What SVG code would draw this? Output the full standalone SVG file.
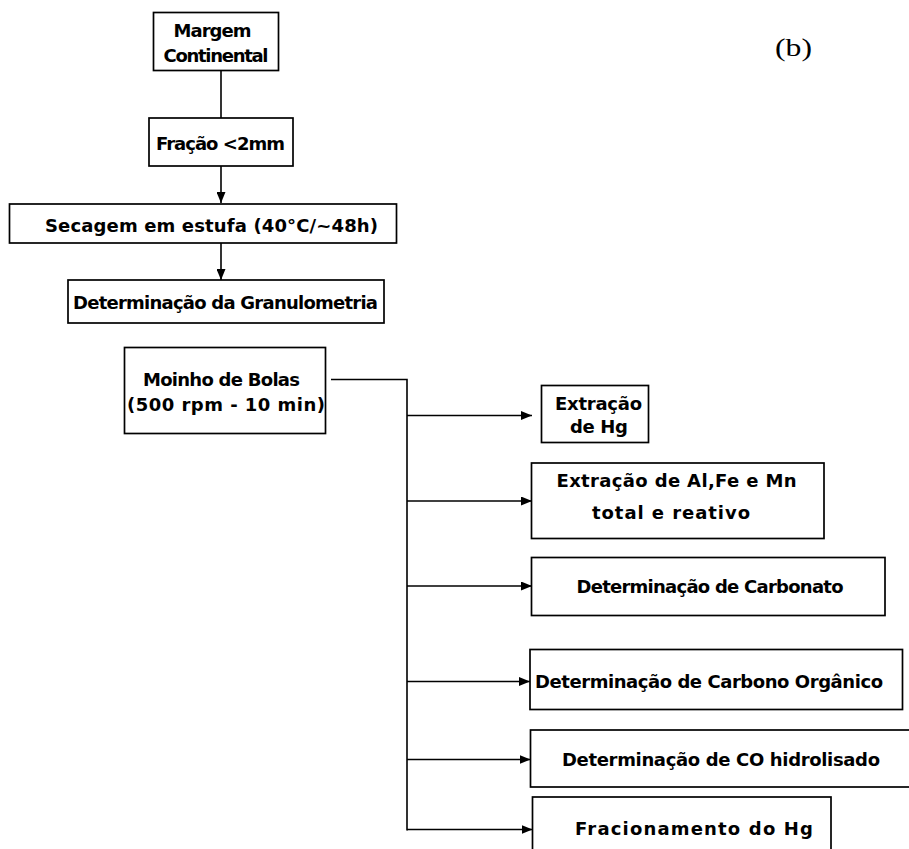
<svg xmlns="http://www.w3.org/2000/svg" width="909" height="849" viewBox="0 0 909 849">
  <style>
    .box { fill: #ffffff; stroke: #000000; stroke-width: 1.7; }
    .lbl { font-family: "DejaVu Sans", "Liberation Sans", sans-serif; font-weight: bold; font-size: 18px; fill: #000000; text-anchor: middle; }
    .tag { font-family: "Liberation Serif", serif; font-size: 26px; fill: #000000; text-anchor: middle; }
    .wire { fill: none; stroke: #000000; stroke-width: 1.6; }
    .arrow { fill: none; stroke: #000000; stroke-width: 1.6; marker-end: url(#head); }
  </style>
  <defs>
    <marker id="head" markerUnits="userSpaceOnUse" markerWidth="12" markerHeight="9" refX="11" refY="4.5" orient="auto">
      <path d="M0,0 L11,4.5 L0,9 z" fill="#000000"/>
    </marker>
  </defs>
  <rect width="909" height="849" fill="#ffffff"/>

  <!-- panel tag -->
  <text class="tag" x="793.5" y="56" textLength="37" lengthAdjust="spacingAndGlyphs">(b)</text>

  <!-- connectors -->
  <g id="connectors">
    <line class="wire" x1="221" y1="70.5" x2="221" y2="118"/>
    <line class="arrow" x1="221" y1="166" x2="221" y2="203"/>
    <line class="arrow" x1="221" y1="243" x2="221" y2="280"/>
    <polyline class="wire" points="331,379.5 407,379.5 407,830.5"/>
    <line class="arrow" x1="407" y1="415.5" x2="532" y2="415.5"/>
    <line class="arrow" x1="407" y1="501" x2="532" y2="501"/>
    <line class="arrow" x1="407" y1="586" x2="532" y2="586"/>
    <line class="arrow" x1="407" y1="681.5" x2="530" y2="681.5"/>
    <line class="arrow" x1="407" y1="759.5" x2="530.5" y2="759.5"/>
    <line class="arrow" x1="407" y1="829.5" x2="532.5" y2="829.5"/>
  </g>

  <!-- nodes -->
  <g id="margem">
    <rect class="box" x="153.5" y="12.5" width="125" height="58"/>
    <text class="lbl" x="212.5" y="37" textLength="78">Margem</text>
    <text class="lbl" x="216" y="62" textLength="105">Continental</text>
  </g>
  <g id="fracao">
    <rect class="box" x="149" y="118" width="144" height="48"/>
    <text class="lbl" x="220.5" y="150" textLength="129">Fração &lt;2mm</text>
  </g>
  <g id="secagem">
    <rect class="box" x="9.5" y="204" width="387" height="39"/>
    <text class="lbl" x="211.5" y="232" textLength="333">Secagem em estufa (40°C/~48h)</text>
  </g>
  <g id="granulometria">
    <rect class="box" x="68" y="280" width="316" height="43"/>
    <text class="lbl" x="225.5" y="309" textLength="305">Determinação da Granulometria</text>
  </g>
  <g id="moinho">
    <rect class="box" x="124.5" y="347.5" width="201" height="86"/>
    <text class="lbl" x="221.5" y="386" textLength="157">Moinho de Bolas</text>
    <text class="lbl" x="226" y="411" textLength="198">(500 rpm - 10 min)</text>
  </g>
  <g id="extracao-hg">
    <rect class="box" x="541.5" y="385.5" width="107" height="57"/>
    <text class="lbl" x="598.5" y="410" textLength="87">Extração</text>
    <text class="lbl" x="599" y="433" textLength="58">de Hg</text>
  </g>
  <g id="extracao-metais">
    <rect class="box" x="531.5" y="463" width="292.5" height="75.5"/>
    <text class="lbl" x="676.5" y="487" textLength="240">Extração de Al,Fe e Mn</text>
    <text class="lbl" x="671" y="519" textLength="158">total e reativo</text>
  </g>
  <g id="carbonato">
    <rect class="box" x="531.5" y="557.5" width="353.5" height="58"/>
    <text class="lbl" x="710" y="593" textLength="267">Determinação de Carbonato</text>
  </g>
  <g id="carbono-organico">
    <rect class="box" x="530" y="649.5" width="372.5" height="60"/>
    <text class="lbl" x="709" y="688" textLength="348">Determinação de Carbono Orgânico</text>
  </g>
  <g id="co-hidrolisado">
    <rect class="box" x="530.5" y="730" width="390" height="57"/>
    <text class="lbl" x="721" y="766" textLength="318">Determinação de CO hidrolisado</text>
  </g>
  <g id="fracionamento">
    <rect class="box" x="532.5" y="797" width="298.5" height="62"/>
    <text class="lbl" x="694" y="835" textLength="238">Fracionamento do Hg</text>
  </g>
</svg>
